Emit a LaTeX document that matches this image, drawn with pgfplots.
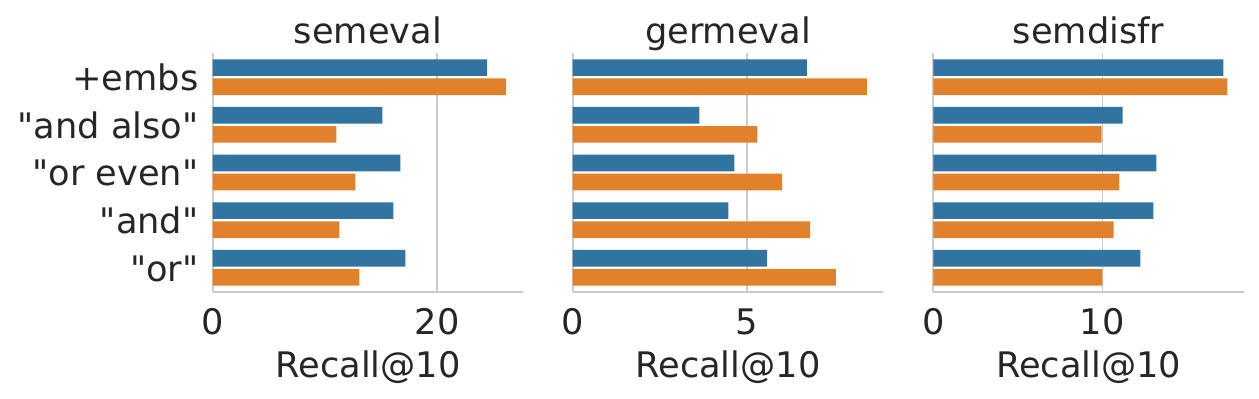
\documentclass[border=0pt]{standalone}
\usepackage{fontspec}
\setmainfont{DejaVu Sans}[Ligatures=TeXOff]
\usepackage{pgfplots}
\pgfplotsset{compat=1.18}

\definecolor{sbblue}{HTML}{3274A1}
\definecolor{sborange}{HTML}{E1812C}
\definecolor{sbtext}{HTML}{262626}
\definecolor{sbgrid}{HTML}{CCCCCC}

% grid below the bars, spines above them
\pgfplotsset{
    layers/gridbelow/.define layer set={
        axis background,axis grid,main,axis ticks,axis lines,
        axis tick labels,axis descriptions,axis foreground}{},
    panel/.style={
        set layers=gridbelow,
        scale only axis,
        width=155.3pt, height=119.2pt,
        anchor=south west,
        xbar, bar width=0.35, 
        y dir=reverse,
        ymin=-0.5, ymax=4.5, xmin=0,
        ytick={0,1,2,3,4},
        axis x line*=bottom, axis y line*=left,
        axis line style={sbgrid, line width=0.85pt},
        xmajorgrids, ymajorgrids=false,
        grid style={sbgrid, line width=0.85pt},
        major tick length=0pt,
        tick style={draw=none},
        font=\fontsize{17.6}{20}\selectfont\color{sbtext},
        /pgf/number format/assume math mode=true,
        xticklabel style={anchor=base, yshift=-21.4pt},
        yticklabel style={anchor=base east, xshift=-3.6pt, yshift=-6.6pt},
        xlabel={Recall@10},
        xlabel style={at={(axis description cs:0.5,0)}, anchor=base, yshift=-42.9pt},
        every axis title/.style={at={(axis description cs:0.5,1)}, anchor=base, yshift=5pt},
    },
    blueb/.style={fill=sbblue, draw=none, bar shift=-0.2},
    orangeb/.style={fill=sborange, draw=none, bar shift=0.2},
}

\begin{document}
\begin{tikzpicture}
\path (0,0) rectangle (629.5pt,199pt);

% semeval
\begin{axis}[panel, at={(106.35pt,53.15pt)}, title={semeval},
    xmax=27.67, xtick={0,20},
    yticklabels={+embs,"and also","or even","and","or"}]
\addplot[blueb] coordinates {(24.44,0) (15.11,1) (16.71,2) (16.09,3) (17.16,4)};
\addplot[orangeb] coordinates {(26.13,0) (11.02,1) (12.71,2) (11.29,3) (13.07,4)};
\end{axis}

% germeval
\begin{axis}[panel, at={(286.35pt,53.15pt)}, title={germeval},
    xmax=8.90, xtick={0,5}, yticklabels={}]
\addplot[blueb] coordinates {(6.71,0) (3.63,1) (4.63,2) (4.46,3) (5.57,4)};
\addplot[orangeb] coordinates {(8.43,0) (5.29,1) (6.00,2) (6.80,3) (7.54,4)};
\end{axis}

% semdisfr
\begin{axis}[panel, at={(466.65pt,53.15pt)}, title={semdisfr},
    xmax=18.37, xtick={0,10}, yticklabels={}]
\addplot[blueb] coordinates {(17.15,0) (11.19,1) (13.20,2) (13.02,3) (12.25,4)};
\addplot[orangeb] coordinates {(17.39,0) (9.95,1) (11.01,2) (10.66,3) (10.00,4)};
\end{axis}
\end{tikzpicture}
\end{document}
